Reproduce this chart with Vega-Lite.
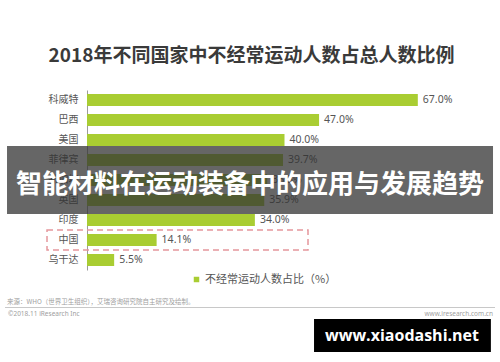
{
  "$schema": "https://vega.github.io/schema/vega-lite/v6.json",
  "width": 395,
  "height": 180,
  "autosize": {"type": "none"},
  "padding": {"left": 87, "top": 90, "right": 18, "bottom": 92},
  "background": "white",
  "title": {
    "text": "2018年不同国家中不经常运动人数占总人数比例",
    "fontSize": 19,
    "fontWeight": "bold",
    "color": "#3a3a3a",
    "font": "Noto Sans CJK SC",
    "anchor": "middle",
    "frame": "group",
    "dx": -33,
    "offset": 24
  },
  "encoding": {
    "y": {
      "field": "country",
      "type": "nominal",
      "scale": {
        "domain": ["科威特", "巴西", "美国", "菲律宾", "新加坡", "英国", "印度", "中国", "乌干达"],
        "paddingInner": 0,
        "paddingOuter": 0
      },
      "axis": {
        "title": null,
        "domain": true,
        "domainColor": "#9a9a9a",
        "domainWidth": 1,
        "ticks": false,
        "grid": false,
        "labelPadding": 9,
        "labelFontSize": 10,
        "labelColor": "#555555",
        "labelFont": "Noto Sans CJK SC"
      }
    }
  },
  "layer": [
    {
      "data": {
        "values": [
          {"country": "科威特", "value": 0.67},
          {"country": "巴西", "value": 0.47},
          {"country": "美国", "value": 0.40},
          {"country": "菲律宾", "value": 0.397},
          {"country": "新加坡", "value": 0.365},
          {"country": "英国", "value": 0.359},
          {"country": "印度", "value": 0.34},
          {"country": "中国", "value": 0.141},
          {"country": "乌干达", "value": 0.055}
        ]
      },
      "layer": [
        {
          "mark": {"type": "bar", "size": 12},
          "encoding": {
            "x": {"field": "value", "type": "quantitative", "scale": {"domain": [0, 0.8], "nice": false}, "axis": null},
            "color": {
              "datum": "不经常运动人数占比（%）",
              "type": "nominal",
              "scale": {"range": ["#A9CD32"]},
              "legend": {
                "title": null,
                "orient": "none",
                "legendX": 104,
                "legendY": 184,
                "symbolType": "square",
                "symbolSize": 30,
                "symbolStrokeWidth": 0,
                "labelFontSize": 11,
                "labelColor": "#555555",
                "labelFont": "Noto Sans CJK SC",
                "labelOffset": 3
              }
            }
          }
        },
        {
          "mark": {"type": "text", "align": "left", "dx": 5, "fontSize": 10.5, "color": "#555555", "font": "Noto Sans"},
          "encoding": {
            "x": {"field": "value", "type": "quantitative"},
            "text": {"field": "value", "type": "quantitative", "format": ".1%"}
          }
        }
      ]
    },
    {
      "data": {"values": [{}]},
      "mark": {"type": "rect", "filled": false, "stroke": "#E5979C", "strokeDash": [6, 4], "strokeWidth": 1.5},
      "encoding": {
        "x": {"datum": -0.081},
        "x2": {"datum": 0.4476},
        "y": {"datum": "中国", "type": "nominal"}
      }
    },
    {
      "data": {"values": [{}]},
      "mark": {"type": "bar", "size": 68, "color": "#333333", "opacity": 0.75},
      "encoding": {
        "x": {"datum": -0.162},
        "x2": {"datum": 0.8223},
        "y": {"datum": "新加坡", "type": "nominal"}
      }
    },
    {
      "data": {"values": [{}]},
      "mark": {"type": "text", "fontSize": 26, "fontWeight": "bold", "color": "white", "font": "Noto Sans CJK SC", "dy": 5},
      "encoding": {
        "x": {"datum": 0.330},
        "y": {"datum": "新加坡", "type": "nominal"},
        "text": {"value": "智能材料在运动装备中的应用与发展趋势"}
      }
    },
    {
      "data": {"values": [{}]},
      "mark": {"type": "text", "align": "left", "fontSize": 6.5, "color": "#a0a0a0", "font": "Noto Sans CJK SC", "dy": 42},
      "encoding": {
        "x": {"datum": -0.1621},
        "y": {"datum": "乌干达", "type": "nominal"},
        "text": {"value": "来源：WHO（世界卫生组织），艾瑞咨询研究院自主研究及绘制。"}
      }
    },
    {
      "data": {"values": [{}]},
      "mark": {"type": "rule", "color": "#c8c8c8", "strokeWidth": 1, "yOffset": 47.5},
      "encoding": {
        "x": {"datum": -0.166},
        "x2": {"datum": 0.8263},
        "y": {"datum": "乌干达", "type": "nominal"}
      }
    },
    {
      "data": {"values": [{}]},
      "mark": {"type": "text", "align": "left", "fontSize": 6.5, "color": "#a0a0a0", "font": "Noto Sans", "dy": 54},
      "encoding": {
        "x": {"datum": -0.160},
        "y": {"datum": "乌干达", "type": "nominal"},
        "text": {"value": "©2018.11 iResearch Inc"}
      }
    },
    {
      "data": {"values": [{}]},
      "mark": {"type": "text", "align": "right", "fontSize": 6.5, "color": "#a0a0a0", "font": "Noto Sans", "dy": 54},
      "encoding": {
        "x": {"datum": 0.8223},
        "y": {"datum": "乌干达", "type": "nominal"},
        "text": {"value": "www.iresearch.com.cn"}
      }
    },
    {
      "data": {"values": [{}]},
      "mark": {"type": "bar", "size": 33, "color": "#000000", "yOffset": 75.5},
      "encoding": {
        "x": {"datum": 0.4598},
        "x2": {"datum": 0.8180},
        "y": {"datum": "乌干达", "type": "nominal"}
      }
    },
    {
      "data": {"values": [{}]},
      "mark": {"type": "text", "fontSize": 16, "fontWeight": "bold", "color": "white", "font": "Open Sans", "dy": 76},
      "encoding": {
        "x": {"datum": 0.638},
        "y": {"datum": "乌干达", "type": "nominal"},
        "text": {"value": "www.xiaodashi.net"}
      }
    }
  ],
  "config": {"view": {"stroke": null}}
}
